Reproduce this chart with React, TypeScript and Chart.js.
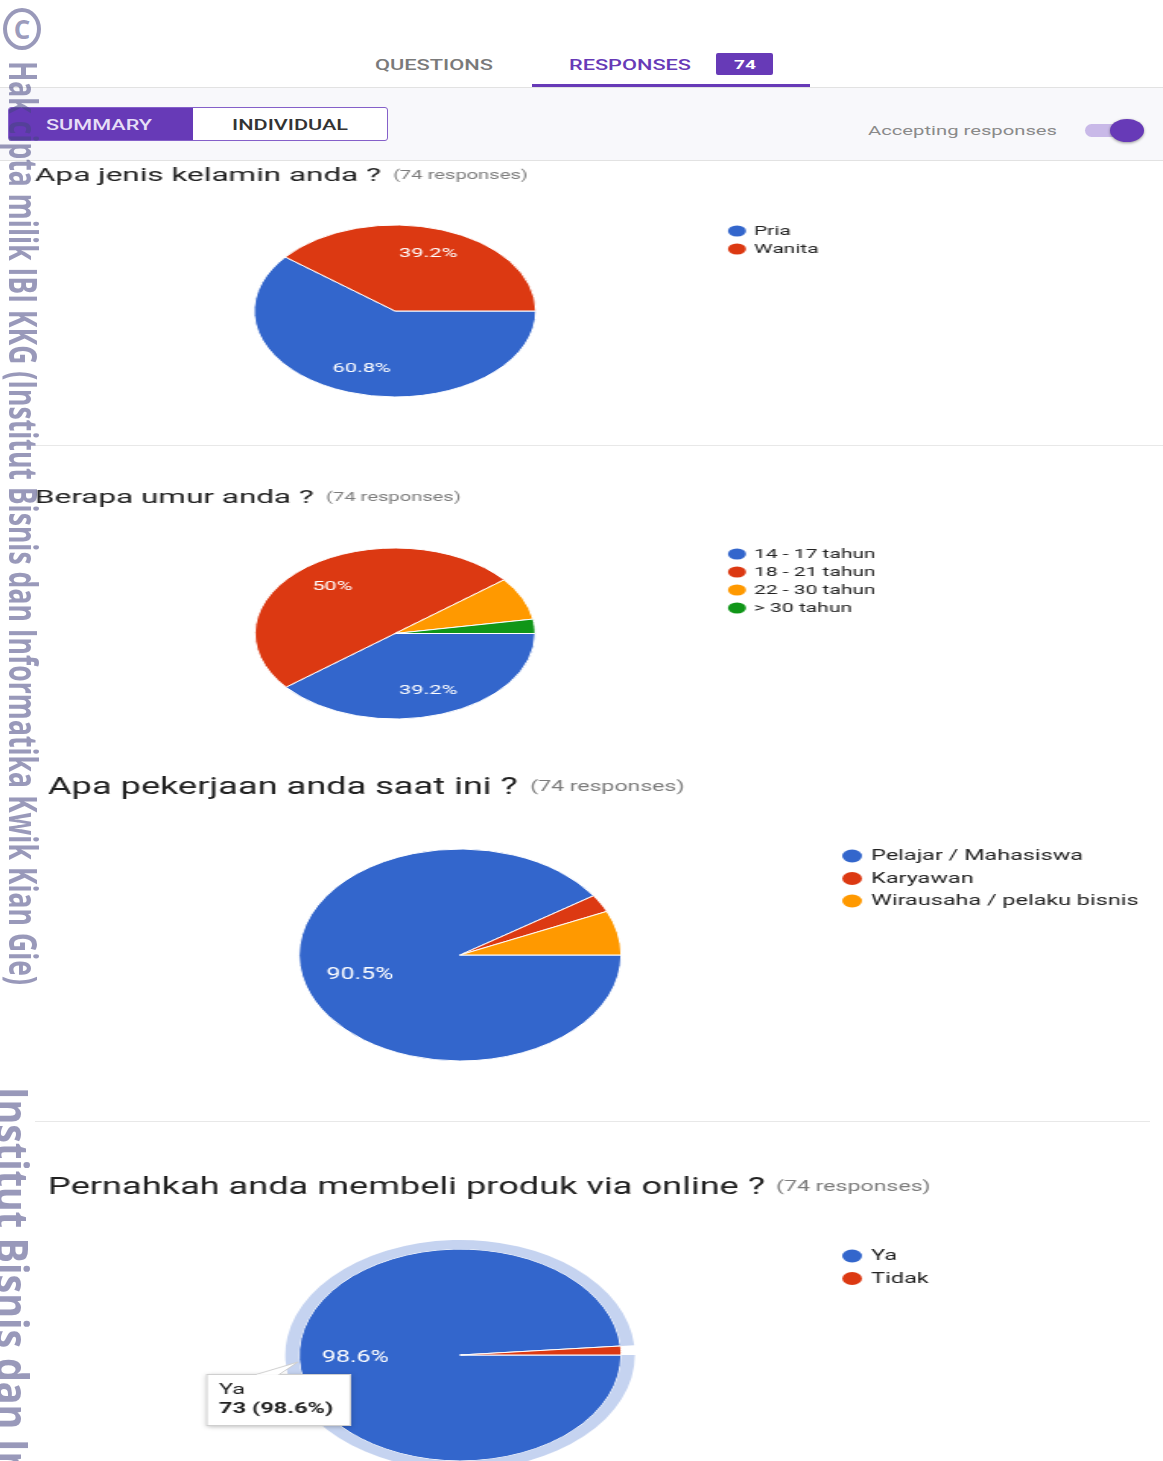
import React, { useEffect, useRef } from 'react';
import { Chart, registerables } from 'chart.js';

Chart.register(...registerables);

// ---------------- data ----------------
const TOTAL_RESPONSES = 74;
const tabLabels = ['QUESTIONS', 'RESPONSES'];
const viewLabels = ['SUMMARY', 'INDIVIDUAL'];
const acceptingText = 'Accepting responses';

const genderTitle = 'Apa jenis kelamin anda ?';
const genderLabels = ['Pria', 'Wanita'];
const genderCounts = [45, 29];

const ageTitle = 'Berapa umur anda ?';
const ageLabels = ['14 - 17 tahun', '18 - 21 tahun', '22 - 30 tahun', '> 30 tahun'];
const ageCounts = [29, 37, 6, 2];

const jobTitle = 'Apa pekerjaan anda saat ini ?';
const jobLabels = ['Pelajar / Mahasiswa', 'Karyawan', 'Wirausaha / pelaku bisnis'];
const jobCounts = [67, 2, 5];

const onlineTitle = 'Pernahkah anda membeli produk via online ?';
const onlineLabels = ['Ya', 'Tidak'];
const onlineCounts = [73, 1];
const onlineHovered = 0;

const watermarkTop = 'Hak cipta milik IBI KKG (Institut Bisnis dan Informatika Kwik Kian Gie)';
const watermarkBottom = 'Institut Bisnis dan Informatika Kwik Kian Gie';
const watermarkBottomFitPart = 'Institut Bisnis dan ';

// ---------------- styles / layout ----------------
const sliceColors = ['#3366cc', '#dc3912', '#ff9900', '#109618'];
const highlightColor = '#c5d3f0';
const purple = '#673ab7';
const wmColor = 'rgba(70,70,130,0.55)';

type Layout = {
  top: number; height: number; sx: number;
  cx: number; cy: number; r: number; ring: number;
  titleX: number; titleBase: number; titleSize: number;
  countX: number; countBase: number; countSize: number;
  dotX: number; textX: number; legendY: number; legendGap: number; legendSize: number; dotR: number;
  labelSize: number; labelRadius: number;
  tip?: { x: number; y: number; w: number; h: number; bx1: number; bx2: number; ax: number; ay: number; textX: number; y1: number; y2: number; size: number };
};

const layoutGender: Layout = {
  top: 161, height: 284, sx: 1.64, cx: 395, cy: 311, r: 86, ring: 0,
  titleX: 35, titleBase: 181, titleSize: 19.2, countX: 393, countBase: 179, countSize: 12.3,
  dotX: 737, textX: 754, legendY: 231, legendGap: 18, legendSize: 12.8, dotR: 5.5,
  labelSize: 13.3, labelRadius: 0.71,
};
const layoutAge: Layout = {
  top: 446, height: 300, sx: 1.64, cx: 395, cy: 633.5, r: 85.5, ring: 0,
  titleX: 35, titleBase: 503, titleSize: 19.2, countX: 326, countBase: 501, countSize: 12.3,
  dotX: 737, textX: 754, legendY: 554, legendGap: 18, legendSize: 12.8, dotR: 5.5,
  labelSize: 13.3, labelRadius: 0.71,
};
const layoutJob: Layout = {
  top: 746, height: 374, sx: 1.52, cx: 460, cy: 955, r: 106, ring: 0,
  titleX: 48, titleBase: 793.5, titleSize: 23.8, countX: 530, countBase: 791, countSize: 15.2,
  dotX: 852, textX: 871, legendY: 856, legendGap: 22.5, legendSize: 15.4, dotR: 6.5,
  labelSize: 16.4, labelRadius: 0.65,
};
const layoutOnline: Layout = {
  top: 1122, height: 339, sx: 1.52, cx: 460, cy: 1355, r: 106, ring: 9,
  titleX: 48, titleBase: 1193.5, titleSize: 23.8, countX: 776, countBase: 1191, countSize: 15.2,
  dotX: 852, textX: 871, legendY: 1256, legendGap: 22.5, legendSize: 15.4, dotR: 6.5,
  labelSize: 16.4, labelRadius: 0.65,
  tip: { x: 206, y: 1374, w: 145, h: 52, bx1: 256, bx2: 279, ax: 298, ay: 1362, textX: 219, y1: 1390, y2: 1409, size: 15.5 },
};

// ---------------- helpers ----------------
let measureCtx: CanvasRenderingContext2D | null = null;
function textWidth(text: string, font: string): number {
  if (!measureCtx) measureCtx = document.createElement('canvas').getContext('2d');
  measureCtx!.font = font;
  return measureCtx!.measureText(text).width;
}

function pctText(v: number, total: number): string {
  return (v / total * 100).toFixed(1).replace(/\.0$/, '') + '%';
}

function FitText({ text, x, baseline, width, size, weight = 400, color, family = 'Roboto' }: any) {
  const k = width / textWidth(text, `${weight} ${size}px ${family}`);
  return (
    <div style={{
      position: 'absolute', left: x, top: baseline - 0.842 * size, fontFamily: family, fontSize: size,
      fontWeight: weight, lineHeight: `${size}px`, color, whiteSpace: 'nowrap',
      transform: `scaleX(${k})`, transformOrigin: '0 0',
    }}>{text}</div>
  );
}

function RotatedText({ text, fitPart, x, y, length, size, weight, perp, color, family = 'Open Sans' }: any) {
  const k = length / textWidth(fitPart || text, `${weight} ${size}px "${family}"`);
  return (
    <div style={{
      position: 'absolute', left: x, top: y, transformOrigin: '0 0',
      transform: `rotate(90deg) scale(${k}, ${perp})`, fontFamily: family, fontWeight: weight,
      fontSize: size, lineHeight: `${size}px`, color, whiteSpace: 'nowrap',
    }}>{text}</div>
  );
}

function PieSection({ layout, title, labels, counts, hovered }: { layout: Layout; title: string; labels: string[]; counts: number[]; hovered?: number }) {
  const ref = useRef<HTMLCanvasElement>(null);
  const s = layout.sx;
  const w = Math.ceil(1163 / s) + 1;
  const h = layout.height;
  useEffect(() => {
    const canvas = ref.current!;
    const cxI = layout.cx / s;
    const cyI = layout.cy - layout.top;
    const half = Math.max(1, Math.min(cxI, w - cxI, cyI, h - cyI) - 1);
    const colors = labels.map((_, i) => sliceColors[i % sliceColors.length]);
    const hasRing = hovered !== undefined && layout.ring > 0;
    const datasets: any[] = [];
    if (hasRing) {
      datasets.push({
        data: counts,
        backgroundColor: counts.map((_, i) => (i === hovered ? highlightColor : 'rgba(0,0,0,0)')),
        borderWidth: 0,
        weight: layout.ring,
      });
    }
    datasets.push({ data: counts, backgroundColor: colors, borderColor: '#ffffff', borderWidth: 1, weight: layout.r });
    const pieIndex = datasets.length - 1;
    const total = counts.reduce((a, b) => a + b, 0);
    const X = (xp: number) => xp / s;
    const Y = (yp: number) => yp - layout.top;

    const overlay = {
      id: 'formsOverlay',
      afterDraw(chart: any) {
        const ctx: CanvasRenderingContext2D = chart.ctx;
        ctx.save();
        // title + response count
        ctx.textAlign = 'left';
        ctx.textBaseline = 'alphabetic';
        ctx.fillStyle = '#212121';
        ctx.font = `400 ${layout.titleSize}px Roboto`;
        ctx.fillText(title, X(layout.titleX), Y(layout.titleBase));
        ctx.fillStyle = '#7c7c7c';
        ctx.font = `400 ${layout.countSize}px Roboto`;
        ctx.fillText(`(${TOTAL_RESPONSES} responses)`, X(layout.countX), Y(layout.countBase));
        // legend
        labels.forEach((lab, i) => {
          const yy = Y(layout.legendY + i * layout.legendGap);
          ctx.fillStyle = colors[i];
          ctx.beginPath();
          ctx.arc(X(layout.dotX), yy, layout.dotR, 0, Math.PI * 2);
          ctx.fill();
          ctx.fillStyle = '#222222';
          ctx.textBaseline = 'middle';
          ctx.font = `400 ${layout.legendSize}px Roboto`;
          ctx.fillText(lab, X(layout.textX), yy + 0.5);
        });
        // percentage labels inside slices
        const meta = chart.getDatasetMeta(pieIndex);
        ctx.fillStyle = '#ffffff';
        ctx.textAlign = 'center';
        ctx.textBaseline = 'middle';
        ctx.font = `400 ${layout.labelSize}px Roboto`;
        meta.data.forEach((arc: any, i: number) => {
          const frac = counts[i] / total;
          if (frac < 0.1) return;
          const p = arc.getProps(['x', 'y', 'startAngle', 'endAngle', 'outerRadius'], true);
          const mid = (p.startAngle + p.endAngle) / 2;
          const rr = p.outerRadius * layout.labelRadius;
          ctx.fillText(pctText(counts[i], total), p.x + Math.cos(mid) * rr, p.y + Math.sin(mid) * rr);
        });
        // hover tooltip
        if (layout.tip && hovered !== undefined) {
          const t = layout.tip;
          const bx = X(t.x), by = Y(t.y), bw = t.w / s, bh = t.h;
          ctx.save();
          ctx.shadowColor = 'rgba(0,0,0,0.25)';
          ctx.shadowBlur = 4;
          ctx.shadowOffsetY = 1;
          ctx.fillStyle = '#ffffff';
          ctx.fillRect(bx, by, bw, bh);
          ctx.restore();
          ctx.strokeStyle = '#cfcfcf';
          ctx.lineWidth = 1;
          ctx.strokeRect(bx + 0.5, by + 0.5, bw - 1, bh - 1);
          ctx.beginPath();
          ctx.moveTo(X(t.bx1), by + 0.5);
          ctx.lineTo(X(t.ax), Y(t.ay));
          ctx.lineTo(X(t.bx2), by + 0.5);
          ctx.closePath();
          ctx.fillStyle = '#ffffff';
          ctx.fill();
          ctx.beginPath();
          ctx.moveTo(X(t.bx1), by + 0.5);
          ctx.lineTo(X(t.ax), Y(t.ay));
          ctx.lineTo(X(t.bx2), by + 0.5);
          ctx.stroke();
          ctx.fillStyle = '#ffffff';
          ctx.fillRect(X(t.bx1) + 0.8, by + 0.2, X(t.bx2) - X(t.bx1) - 1.6, 1.4);
          ctx.textAlign = 'left';
          ctx.textBaseline = 'middle';
          ctx.fillStyle = '#222222';
          ctx.font = `400 ${t.size}px Roboto`;
          ctx.fillText(labels[hovered], X(t.textX), Y(t.y1));
          ctx.font = `700 ${t.size}px Roboto`;
          ctx.fillText(`${counts[hovered]} (${pctText(counts[hovered], total)})`, X(t.textX), Y(t.y2));
        }
        ctx.restore();
      },
    };

    const chart = new Chart(canvas, {
      type: 'pie',
      data: { labels, datasets },
      options: {
        responsive: false,
        animation: false,
        events: [],
        rotation: 90,
        radius: layout.r + (hasRing ? layout.ring : 0),
        layout: { padding: { left: cxI - half, right: w - cxI - half, top: cyI - half, bottom: h - cyI - half } },
        plugins: { legend: { display: false }, tooltip: { enabled: false } },
      } as any,
      plugins: [overlay],
    });
    return () => chart.destroy();
  }, []);
  return (
    <canvas ref={ref} width={w} height={h}
      style={{ position: 'absolute', left: 0, top: layout.top, width: w * s, height: h }} />
  );
}

export default function App() {
  return (
    <div style={{ position: 'fixed', left: 0, top: 0, width: 1163, height: 1461, overflow: 'hidden', background: '#ffffff' }}>
      {/* top tab bar */}
      <FitText text={tabLabels[0]} x={375} baseline={70} width={118} size={14} weight={500} color="#7a7a7a" />
      <FitText text={tabLabels[1]} x={569} baseline={70} width={122} size={14} weight={500} color={purple} />
      <div style={{ position: 'absolute', left: 716, top: 53, width: 57, height: 22, background: purple, borderRadius: 2 }} />
      <FitText text={String(TOTAL_RESPONSES)} x={734} baseline={69.5} width={22} size={13.5} weight={700} color="#ffffff" />
      <div style={{ position: 'absolute', left: 532, top: 84, width: 278, height: 3, background: purple }} />

      {/* sub bar */}
      <div style={{ position: 'absolute', left: 0, top: 87, width: 1163, height: 74, background: '#f8f8fb', borderTop: '1px solid #e2e2e2', borderBottom: '1px solid #e2e2e2', boxSizing: 'border-box' }} />
      <div style={{ position: 'absolute', left: 8, top: 107, width: 380, height: 34, border: '1.5px solid #8560c9', borderRadius: 3, boxSizing: 'border-box', background: '#ffffff', overflow: 'hidden' }}>
        <div style={{ position: 'absolute', left: 0, top: 0, width: 184, height: '100%', background: purple }} />
      </div>
      <FitText text={viewLabels[0]} x={46} baseline={130} width={106} size={14} weight={500} color="#e6def6" />
      <FitText text={viewLabels[1]} x={232} baseline={130} width={116} size={14} weight={500} color="#333333" />
      <FitText text={acceptingText} x={868} baseline={135} width={189} size={13} weight={400} color="#8a8a8a" />
      <div style={{ position: 'absolute', left: 1085, top: 124, width: 45, height: 13, borderRadius: 7, background: '#c9b9e8' }} />
      <div style={{ position: 'absolute', left: 1110, top: 119, width: 34, height: 23, borderRadius: '50%', background: purple, boxShadow: '0 1px 3px rgba(0,0,0,0.4)' }} />

      {/* charts */}
      <PieSection layout={layoutGender} title={genderTitle} labels={genderLabels} counts={genderCounts} />
      <PieSection layout={layoutAge} title={ageTitle} labels={ageLabels} counts={ageCounts} />
      <PieSection layout={layoutJob} title={jobTitle} labels={jobLabels} counts={jobCounts} />
      <PieSection layout={layoutOnline} title={onlineTitle} labels={onlineLabels} counts={onlineCounts} hovered={onlineHovered} />

      {/* separators */}
      <div style={{ position: 'absolute', left: 35, top: 445, width: 1128, height: 1, background: '#e8e8e8' }} />
      <div style={{ position: 'absolute', left: 35, top: 1121, width: 1115, height: 1, background: '#e8e8e8' }} />

      {/* watermark */}
      <div style={{ position: 'absolute', left: 3, top: 8, width: 30, height: 34, border: `4px solid ${wmColor}`, borderRadius: '50%', color: wmColor, fontFamily: 'Open Sans', fontWeight: 700, fontSize: 26, lineHeight: '34px', textAlign: 'center' }}>C</div>
      <RotatedText text={watermarkTop} x={44} y={61} length={924} size={25} weight={700} perp={1.6} color={wmColor} />
      <RotatedText text={watermarkBottom} fitPart={watermarkBottomFitPart} x={36} y={1087} length={352} size={28} weight={700} perp={1.6} color={wmColor} />
    </div>
  );
}
